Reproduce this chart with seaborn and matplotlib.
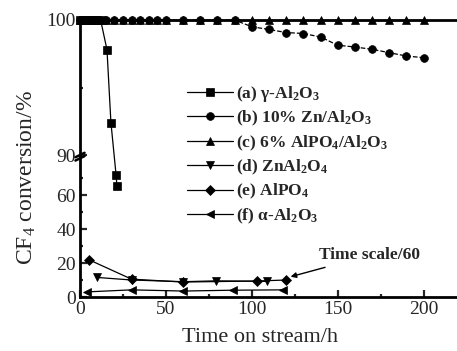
import numpy as np
import pandas as pd
import matplotlib
matplotlib.use("Agg")
import matplotlib.pyplot as plt
from matplotlib.lines import Line2D
import seaborn as sns

# =========================================================
# DATA
# =========================================================

# (a) gamma-Al2O3
a_time = [0, 2, 4, 6, 8, 10, 12, 15.7, 18, 21, 21.5]
a_conv = [100, 100, 100, 100, 100, 100, 100, 97.8, 92.4, 71.8, 65.3]

# (b) 10% Zn/Al2O3
b_time = [0, 5, 10, 15, 20, 25, 30, 35, 40, 45, 50, 60, 70, 80, 90,
          100, 110, 120, 130, 140, 150, 160, 170, 180, 190, 200]
b_conv = [100, 100, 100, 100, 100, 100, 100, 100, 100, 100, 100, 100, 100, 100, 100,
          99.5, 99.3, 99.07, 99.0, 98.74, 98.13, 98.0, 97.83, 97.58, 97.33, 97.21]

# (c) 6% AlPO4/Al2O3
c_time = [0, 5, 10, 15, 20, 25, 30, 35, 40, 45, 50, 60, 70, 80, 90,
          100, 110, 120, 130, 140, 150, 160, 170, 180, 190, 200]
c_conv = [100] * len(c_time)

# (d) ZnAl2O4
d_time = [10, 30, 60, 79, 109]
d_conv = [11.5, 10.0, 9.0, 9.5, 9.2]

# (e) AlPO4
e_time = [5, 30, 60, 103, 120]
e_conv = [22.0, 10.5, 8.8, 9.4, 10.0]

# (f) alpha-Al2O3
f_time = [4, 30, 60, 89, 118]
f_conv = [3.0, 4.2, 3.5, 4.0, 4.2]

labels = [
    r"(a) γ-Al$_\mathbf{2}$O$_\mathbf{3}$",
    r"(b) 10% Zn/Al$_\mathbf{2}$O$_\mathbf{3}$",
    r"(c) 6% AlPO$_\mathbf{4}$/Al$_\mathbf{2}$O$_\mathbf{3}$",
    r"(d) ZnAl$_\mathbf{2}$O$_\mathbf{4}$",
    r"(e) AlPO$_\mathbf{4}$",
    r"(f) α-Al$_\mathbf{2}$O$_\mathbf{3}$",
]

# =========================================================
# STYLE
# =========================================================

sns.set_theme(style="ticks")
plt.rcParams["font.family"] = ["Liberation Serif", "DejaVu Serif"]
plt.rcParams["mathtext.fontset"] = "custom"
plt.rcParams["mathtext.rm"] = "Liberation Serif"
plt.rcParams["mathtext.it"] = "Liberation Serif:italic"
plt.rcParams["mathtext.bf"] = "Liberation Serif:bold"

# =========================================================
# BROKEN Y SCALE (0-83.5 low part, 90-100 stretched top part)
# =========================================================

LOW_TOP = 83.5
LOW_K = 1.7
GAP_K = 0.05 / 6.5
HIGH_K = 13.5
HIGH_BASE = LOW_TOP * LOW_K + 0.05


def fwd(v):
    v = np.asarray(v, dtype=float)
    return np.where(v <= LOW_TOP, v * LOW_K,
                    np.where(v < 90, LOW_TOP * LOW_K + (v - LOW_TOP) * GAP_K,
                             HIGH_BASE + (v - 90) * HIGH_K))


def inv(t):
    t = np.asarray(t, dtype=float)
    return np.where(t <= LOW_TOP * LOW_K, t / LOW_K,
                    np.where(t < HIGH_BASE, LOW_TOP + (t - LOW_TOP * LOW_K) / GAP_K,
                             90 + (t - HIGH_BASE) / HIGH_K))


fig = plt.figure(figsize=(4.57, 3.51), dpi=100)
ax = fig.add_axes([80 / 457, 54 / 351, 378 / 457, 277 / 351])
ax.set_yscale("function", functions=(fwd, inv))

series = [
    (a_time, a_conv, "s", "-"),
    (b_time, b_conv, "o", "--"),
    (c_time, c_conv, "^", "-"),
    (d_time, d_conv, "v", "-"),
    (e_time, e_conv, "D", "-"),
    (f_time, f_conv, "<", "-"),
]
msize = {"s": 5.2, "o": 5.6, "^": 6.0, "v": 6.0, "D": 4.8, "<": 6.0}

for t, c, m, ls in series:
    sns.lineplot(x=t, y=c, ax=ax, color="black", marker=m, linestyle=ls,
                 linewidth=0.9, markersize=msize[m], markeredgewidth=0.5,
                 markeredgecolor="black", estimator=None, sort=False,
                 clip_on=False, zorder=3)

ax.set_xlim(0, 220)
ax.set_ylim(0, 100)

ax.set_xticks([0, 50, 100, 150, 200])
ax.set_xticks([25, 75, 125, 175], minor=True)
ax.set_yticks([0, 20, 40, 60, 90, 100])
ax.set_yticks([10, 30, 50, 70, 95], minor=True)
ax.set_yticklabels(["0", "20", "40", "60", "90", "100"])
ax.tick_params(which="major", direction="in", length=5, width=1.6, labelsize=14, pad=3)
ax.tick_params(which="minor", direction="in", length=2.5, width=1.6)

for s in ["left", "bottom", "top"]:
    ax.spines[s].set_linewidth(2)
    ax.spines[s].set_color("black")
ax.spines["right"].set_visible(False)

ax.set_xlabel("Time on stream/h", fontsize=16)
ax.xaxis.set_label_coords(0.476, -0.112)
ax.set_ylabel(r"CF$_4$ conversion/%", fontsize=17)
ax.yaxis.set_label_coords(-0.11, 0.43)

# break marks on the left spine at 90
yb = fwd(90) / fwd(100)
for dy in (-0.012, 0.0):
    ax.plot([-0.012, 0.012], [yb + dy - 0.008, yb + dy + 0.008], transform=ax.transAxes,
            color="black", linewidth=1.8, clip_on=False, zorder=5)

# legend
handles = [Line2D([0], [0], color="black", marker=m, linestyle="-", linewidth=0.9,
                  markersize=msize[m], markeredgewidth=0.5)
           for _, _, m, _ in series]
ax.legend(handles, labels, loc="upper left", bbox_to_anchor=(0.283, 0.77),
          frameon=False, prop={"weight": "bold", "size": 12.5},
          handlelength=2.65, handletextpad=0.15, labelspacing=0.3,
          borderpad=0, borderaxespad=0)

ax.annotate("Time scale/60", xy=(121, 11.5), xytext=(139, 24.5),
            fontsize=12.5, fontweight="bold", ha="left", va="center",
            arrowprops=dict(arrowstyle="-|>", color="black", lw=1.0,
                            shrinkA=2, shrinkB=2, mutation_scale=8))

fig.savefig("out.png", dpi=100)
